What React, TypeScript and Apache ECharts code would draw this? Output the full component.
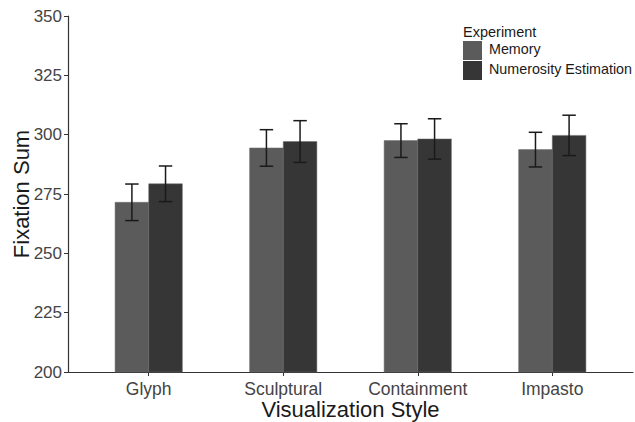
import React, { useEffect, useRef } from "react";
import * as echarts from "echarts";

const categories = ["Glyph", "Sculptural", "Containment", "Impasto"];
const seriesNames = ["Memory", "Numerosity Estimation"];
const memoryMean = [271.5, 294.4, 297.5, 293.7];
const memoryErr = [7.7, 7.7, 7.1, 7.3];
const numerosityMean = [279.3, 297.1, 298.2, 299.7];
const numerosityErr = [7.5, 8.8, 8.5, 8.5];
const yTicks = [200, 225, 250, 275, 300, 325, 350];

const colors = ["#5b5b5b", "#363636"];

function makeData(means: number[], errs: number[]) {
  return means.map((m, i) => [i + 1, m, m - errs[i], m + errs[i]]);
}

function makeRender(offset: number, color: string) {
  return (params: any, api: any) => {
    const x = api.value(0) as number;
    const mean = api.value(1) as number;
    const lo = api.value(2) as number;
    const hi = api.value(3) as number;
    const left = api.coord([x + offset - 0.125, mean]);
    const right = api.coord([x + offset + 0.125, 200]);
    const c = api.coord([x + offset, lo]);
    const top = api.coord([x + offset, hi]);
    const wl = api.coord([x + offset - 0.05, hi]);
    const wr = api.coord([x + offset + 0.05, hi]);
    const hw = (wr[0] - wl[0]) / 2;
    const lineStyle = { stroke: "#1a1a1a", lineWidth: 1.5, fill: null };
    return {
      type: "group",
      children: [
        {
          type: "rect",
          shape: {
            x: left[0],
            y: left[1],
            width: right[0] - left[0],
            height: right[1] - left[1],
          },
          style: { fill: color, stroke: "#6a6a6a", lineWidth: 0.5 },
        },
        {
          type: "line",
          shape: { x1: c[0], y1: c[1], x2: top[0], y2: top[1] },
          style: lineStyle,
        },
        {
          type: "line",
          shape: { x1: c[0] - hw, y1: c[1], x2: c[0] + hw, y2: c[1] },
          style: lineStyle,
        },
        {
          type: "line",
          shape: { x1: top[0] - hw, y1: top[1], x2: top[0] + hw, y2: top[1] },
          style: lineStyle,
        },
      ],
    };
  };
}

export default function App() {
  const ref = useRef<HTMLDivElement>(null);
  useEffect(() => {
    if (!ref.current) return;
    const chart = echarts.init(ref.current, null, { renderer: "svg" });
    const font = "Liberation Sans, Arial, sans-serif";
    chart.setOption({
      animation: false,
      backgroundColor: "#ffffff",
      textStyle: { fontFamily: font },
      grid: {
        left: 68,
        right: 2,
        top: 16,
        bottom: 50,
        containLabel: false,
        outerBoundsMode: "none",
      },
      xAxis: {
        type: "value",
        min: 0.4,
        max: 4.6,
        name: "Visualization Style",
        nameLocation: "middle",
        nameGap: 26,
        nameMoveOverlap: false,
        nameTextStyle: { fontSize: 22, color: "#1a1a1a", fontFamily: font },
        splitLine: { show: false },
        axisLine: { show: true, lineStyle: { color: "#333333", width: 1.2 } },
        axisTick: {
          show: true,
          length: 4,
          customValues: [1, 2, 3, 4],
          lineStyle: { color: "#333333" },
        },
        axisLabel: {
          customValues: [1, 2, 3, 4],
          formatter: (v: number) => categories[Math.round(v) - 1] ?? "",
          fontSize: 17.5,
          color: "#444444",
          margin: 8,
          fontFamily: font,
        },
      },
      yAxis: {
        type: "value",
        min: yTicks[0],
        max: yTicks[yTicks.length - 1],
        interval: 25,
        name: "Fixation Sum",
        nameLocation: "middle",
        nameGap: 36,
        nameMoveOverlap: false,
        nameTextStyle: { fontSize: 22, color: "#1a1a1a", fontFamily: font },
        splitLine: { show: false },
        axisLine: { show: true, lineStyle: { color: "#333333", width: 1.2 } },
        axisTick: { show: true, length: 4, lineStyle: { color: "#333333" } },
        axisLabel: {
          fontSize: 17,
          color: "#444444",
          margin: 6,
          fontFamily: font,
        },
      },
      graphic: [
        {
          type: "text",
          left: 463,
          top: 24,
          style: { text: "Experiment", fontSize: 14.5, fill: "#1a1a1a", fontFamily: font },
        },
        {
          type: "rect",
          shape: { x: 463, y: 41, width: 19, height: 19 },
          style: { fill: colors[0] },
        },
        {
          type: "rect",
          shape: { x: 463, y: 61, width: 19, height: 19 },
          style: { fill: colors[1] },
        },
        {
          type: "text",
          left: 489,
          top: 42,
          style: { text: seriesNames[0], fontSize: 14.3, fill: "#1a1a1a", fontFamily: font },
        },
        {
          type: "text",
          left: 489,
          top: 62,
          style: { text: seriesNames[1], fontSize: 14.3, fill: "#1a1a1a", fontFamily: font },
        },
      ],
      series: [
        {
          name: seriesNames[0],
          type: "custom",
          renderItem: makeRender(-0.125, colors[0]),
          encode: { x: 0, y: [1, 2, 3] },
          data: makeData(memoryMean, memoryErr),
          z: 2,
        },
        {
          name: seriesNames[1],
          type: "custom",
          renderItem: makeRender(0.125, colors[1]),
          encode: { x: 0, y: [1, 2, 3] },
          data: makeData(numerosityMean, numerosityErr),
          z: 3,
        },
      ],
    });
    return () => chart.dispose();
  }, []);
  return <div ref={ref} style={{ width: 635, height: 422, position: "absolute", left: 0, top: 0 }} />;
}
